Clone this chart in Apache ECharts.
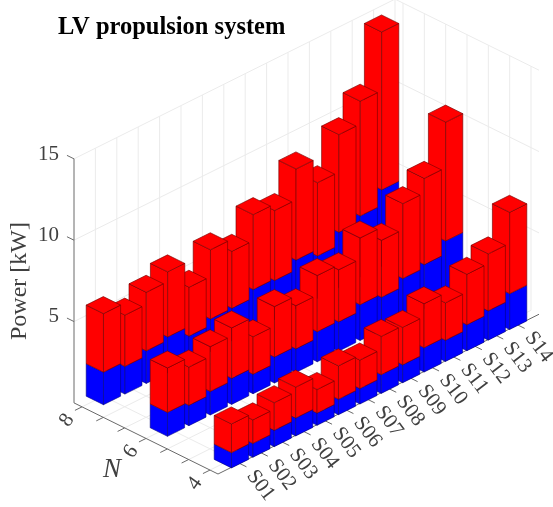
<!DOCTYPE html>
<html><head><meta charset="utf-8">
<style>html,body{margin:0;padding:0;background:#fff}#c{width:553px;height:507px}</style>
<script src="https://cdn.jsdelivr.net/npm/echarts@6/dist/echarts.min.js"></script>
</head><body><div id="c"></div>
<script>
const sCats=['S01','S02','S03','S04','S05','S06','S07','S08','S09','S10','S11','S12','S13','S14'];
const nRows=[8,6,4];
const nTicks=[8,22/3,20/3,6,16/3,14/3,4];
const nTickLabels={8:'8',6:'6',4:'4'};
const pTicks=[5,10,15];
const total8=[5.6,4.85,5.6,6.2,4.6,6.25,5.5,7.1,6.7,8.6,7.1,9.4,10.8,14.4];
const blue8=[2.0,1.7,2.0,2.2,1.6,2.0,2.0,2.5,2.4,3.0,2.6,3.4,3.75,4.7];
const total6=[4.2,3.6,4.2,4.7,3.5,4.7,4.1,5.3,5.0,6.3,5.5,7.1,8.0,10.8];
const blue6=[1.47,1.25,1.45,1.6,1.2,1.6,1.45,1.85,1.8,2.2,2.0,2.5,2.7,3.5];
const total4=[2.7,2.3,2.7,3.0,2.2,3.0,2.7,3.5,3.4,4.2,3.6,4.7,5.3,7.2];
const blue4=[0.94,0.85,1.0,1.1,0.75,0.95,0.95,1.15,1.1,1.5,1.3,1.6,1.8,2.2];

// Oblique view of the 3D box: plot units are the hidden cartesian axes' units
const O=[218,474],Vs=[21.4,-10.65],Vn=[-32,-15.8],Vp=16.27;
const nMin=3.75,nMax=8.25,sMax=15,pMax=15,halfW=0.4,halfD=0.27;
function P(s,n,p){const dn=n-nMin;return [O[0]+Vs[0]*s+Vn[0]*dn,O[1]+Vs[1]*s+Vn[1]*dn-Vp*p];}

const rowsData={8:[total8,blue8],6:[total6,blue6],4:[total4,blue4]};
const barData=[];
nRows.forEach(n=>{const [t,b]=rowsData[n];
  for(let i=13;i>=0;i--){barData.push([i+1,n,0,b[i],0]);barData.push([i+1,n,b[i],t[i],1]);}
});
const faceCol=['#0000ff','#ff0000'],edgeCol=['rgba(0,0,120,.7)','rgba(120,0,0,.8)'];
function renderBar(p,api){
  const s=api.value(0),n=api.value(1),z0=api.value(2),z1=api.value(3),k=api.value(4);
  const c=(a,b,z)=>api.coord(P(s+a*halfW,n+b*halfD,z));
  const st={fill:faceCol[k],stroke:edgeCol[k],lineWidth:0.8};
  const poly=pts=>({type:'polygon',shape:{points:pts},style:st});
  const kids=[
    poly([c(-1,-1,z0),c(-1,1,z0),c(-1,1,z1),c(-1,-1,z1)]),
    poly([c(-1,-1,z0),c(1,-1,z0),c(1,-1,z1),c(-1,-1,z1)])];
  if(k===1)kids.push(poly([c(-1,-1,z1),c(1,-1,z1),c(1,1,z1),c(-1,1,z1)]));
  return {type:'group',children:kids};
}
// frame: [s0,n0,p0,s1,n1,p1,kind]
const gridSegs=[];
for(let i=1;i<=14;i++){gridSegs.push([i,nMax,0,i,nMax,pMax,0]);gridSegs.push([i,nMin,0,i,nMax,0,0]);}
nTicks.forEach(n=>{gridSegs.push([sMax,n,0,sMax,n,pMax,0]);gridSegs.push([0,n,0,sMax,n,0,0]);});
pTicks.forEach(p=>{gridSegs.push([0,nMax,p,sMax,nMax,p,0]);gridSegs.push([sMax,nMin,p,sMax,nMax,p,0]);});
gridSegs.push([sMax,nMax,0,sMax,nMax,pMax,0]);
const axisSegs=[[0,nMax,0,0,nMax,pMax,1],[0,nMin,0,0,nMax,0,1],[0,nMin,0,sMax,nMin,0,1]];
for(let i=1;i<=14;i++)axisSegs.push([i,nMin,0,i,nMin-0.22,0,1]);
nTicks.forEach(n=>axisSegs.push([0,n,0,-0.33,n,0,1]));
pTicks.forEach(p=>axisSegs.push([0,nMax,p,0,nMax+0.22,p,1]));
function renderSeg(p,api){
  const a=api.coord(P(api.value(0),api.value(1),api.value(2))),b=api.coord(P(api.value(3),api.value(4),api.value(5)));
  const k=api.value(6);
  return {type:'line',shape:{x1:a[0],y1:a[1],x2:b[0],y2:b[1]},style:{stroke:k?'#6a6a6a':'#ebebeb',lineWidth:1}};
}
const serif='"Liberation Serif","Times New Roman",serif';
const labels=[];
sCats.forEach((t,i)=>labels.push({t,pos:[i+1-0.16,nMin-0.46,0],rot:-53,size:21}));
Object.keys(nTickLabels).forEach(n=>labels.push({t:nTickLabels[n],pos:[-0.98,+n-0.19,0],rot:55,size:21,center:true}));
const lblData=labels.map((l,i)=>[l.pos[0],l.pos[1],l.pos[2],i]);
function renderLbl(p,api){
  const l=labels[api.value(3)],c=api.coord(P(api.value(0),api.value(1),api.value(2)));
  return {type:'text',x:c[0],y:c[1],rotation:l.rot*Math.PI/180,
    style:{text:l.t,font:l.size+'px '+serif,fill:'#404040',align:l.center?'center':'left',verticalAlign:'middle'}};
}
const chart=echarts.init(document.getElementById('c'),null,{renderer:'canvas'});
chart.setOption({
  animation:false,backgroundColor:'#fff',
  grid:{left:0,right:0,top:0,bottom:0},
  xAxis:{type:'value',min:0,max:553,show:false},
  yAxis:{type:'value',min:0,max:507,inverse:true,show:false},
  title:{text:'LV propulsion system',left:53,top:10,textStyle:{fontFamily:serif,fontSize:24.5,fontWeight:'bold',color:'#000'}},
  graphic:[
    {type:'text',x:20,y:281,rotation:Math.PI/2,style:{text:'Power [kW]',font:'24px '+serif,fill:'#404040',align:'center',verticalAlign:'middle'}},
    {type:'text',x:112,y:470,style:{text:'N',font:'italic 27px '+serif,fill:'#404040',align:'center',verticalAlign:'middle'}},
    {type:'text',x:59,y:154,style:{text:'15',font:'21px '+serif,fill:'#404040',align:'right',verticalAlign:'middle'}},
    {type:'text',x:59,y:235,style:{text:'10',font:'21px '+serif,fill:'#404040',align:'right',verticalAlign:'middle'}},
    {type:'text',x:59,y:316,style:{text:'5',font:'21px '+serif,fill:'#404040',align:'right',verticalAlign:'middle'}}
  ],
  series:[
    {type:'custom',coordinateSystem:'cartesian2d',renderItem:renderSeg,data:gridSegs,silent:true,clip:false,z:1},
    {type:'custom',coordinateSystem:'cartesian2d',renderItem:renderSeg,data:axisSegs,silent:true,clip:false,z:2},
    {type:'custom',coordinateSystem:'cartesian2d',renderItem:renderBar,data:barData,silent:true,clip:false,z:3},
    {type:'custom',coordinateSystem:'cartesian2d',renderItem:renderLbl,data:lblData,silent:true,clip:false,z:4}
  ]
});
</script></body></html>
